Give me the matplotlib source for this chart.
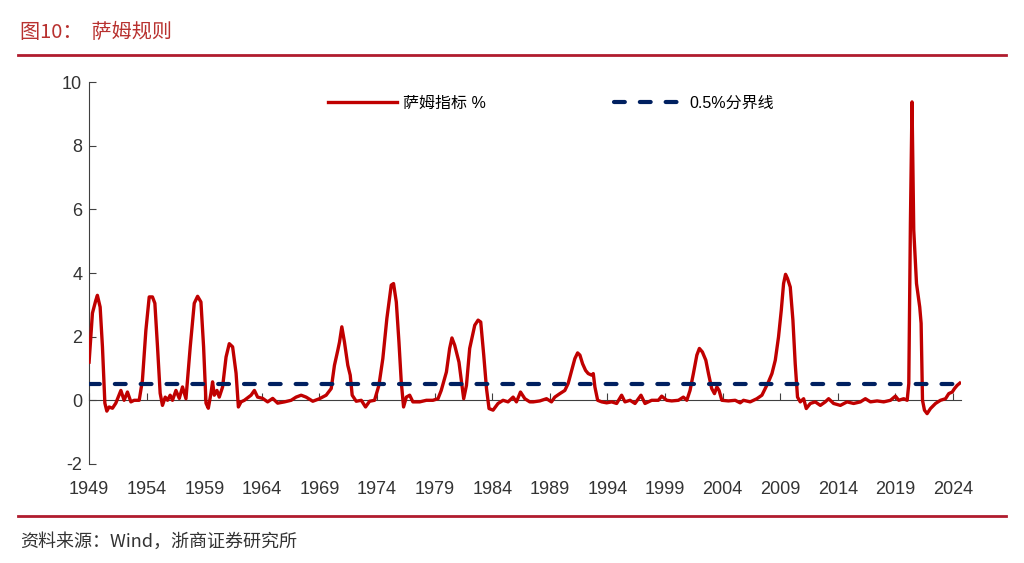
import matplotlib
matplotlib.use("Agg")
import matplotlib.pyplot as plt
from matplotlib.lines import Line2D

plt.rcParams["font.family"] = ["Liberation Sans", "Noto Sans CJK SC", "DejaVu Sans"]
plt.rcParams["axes.unicode_minus"] = False

# Sahm rule indicator (%): decimal year, value
years = [
    1949.00, 1949.29, 1949.58, 1949.72, 1949.96, 1950.16, 1950.37, 1950.54, 1950.74, 1951.03,
    1951.32, 1951.76, 1952.04, 1952.33, 1952.63, 1952.91, 1953.35, 1953.63, 1953.93, 1954.22,
    1954.50, 1954.71, 1954.94, 1955.17, 1955.37, 1955.61, 1955.81, 1956.04, 1956.24, 1956.54,
    1956.83, 1957.11, 1957.41, 1957.78, 1958.13, 1958.42, 1958.71, 1958.94, 1959.15, 1959.35,
    1959.58, 1959.72, 1959.87, 1960.10, 1960.30, 1960.59, 1960.89, 1961.17, 1961.46, 1961.76,
    1961.96, 1962.19, 1962.48, 1963.06, 1963.35, 1963.63, 1964.07, 1964.50, 1964.94, 1965.37,
    1965.96, 1966.54, 1966.97, 1967.41, 1967.84, 1968.42, 1969.00, 1969.58, 1970.02, 1970.30,
    1970.59, 1970.74, 1970.94, 1971.17, 1971.46, 1971.67, 1971.84, 1972.19, 1972.63, 1973.00,
    1973.35, 1973.78, 1974.16, 1974.50, 1974.85, 1975.23, 1975.43, 1975.67, 1975.90, 1976.10,
    1976.30, 1976.54, 1976.83, 1977.11, 1977.70, 1978.28, 1978.85, 1979.29, 1979.57, 1980.02,
    1980.30, 1980.50, 1980.74, 1981.11, 1981.37, 1981.52, 1981.76, 1982.04, 1982.48, 1982.77,
    1983.00, 1983.26, 1983.50, 1983.72, 1984.07, 1984.50, 1984.94, 1985.37, 1985.81, 1986.10,
    1986.45, 1986.83, 1987.26, 1987.55, 1988.13, 1988.71, 1989.14, 1989.43, 1989.87, 1990.30,
    1990.59, 1990.89, 1991.17, 1991.41, 1991.61, 1991.84, 1992.10, 1992.33, 1992.63, 1992.77,
    1992.91, 1993.15, 1993.50, 1993.93, 1994.37, 1994.80, 1995.23, 1995.52, 1995.96, 1996.39,
    1996.91, 1997.26, 1997.84, 1998.42, 1998.71, 1999.15, 1999.58, 2000.16, 2000.59, 2000.89,
    2001.17, 2001.46, 2001.76, 2001.98, 2002.24, 2002.54, 2002.77, 2003.05, 2003.29, 2003.50,
    2003.69, 2003.93, 2004.50, 2005.09, 2005.52, 2005.81, 2006.39, 2006.97, 2007.41, 2007.70,
    2007.98, 2008.28, 2008.57, 2008.85, 2009.09, 2009.29, 2009.46, 2009.63, 2009.87, 2010.10,
    2010.30, 2010.50, 2010.74, 2011.03, 2011.26, 2011.61, 2012.04, 2012.48, 2012.91, 2013.20,
    2013.63, 2014.22, 2014.80, 2015.37, 2015.96, 2016.39, 2016.83, 2017.41, 2017.98, 2018.57,
    2019.00, 2019.29, 2019.72, 2020.02, 2020.16, 2020.30, 2020.44, 2020.59, 2020.83, 2021.11,
    2021.23, 2021.35, 2021.52, 2021.75, 2022.04, 2022.48, 2022.91, 2023.35, 2023.63, 2023.93,
    2024.13, 2024.36, 2024.59,
]
sahm = [
    1.20, 2.74, 3.14, 3.30, 2.93, 1.68, -0.09, -0.34, -0.21, -0.25,
    -0.09, 0.31, 0.00, 0.26, -0.05, 0.00, 0.00, 0.63, 2.20, 3.25,
    3.25, 3.05, 1.68, 0.22, -0.16, 0.10, 0.00, 0.16, 0.00, 0.31,
    0.06, 0.42, 0.05, 1.68, 3.05, 3.27, 3.09, 1.68, -0.09, -0.25,
    0.22, 0.58, 0.16, 0.31, 0.10, 0.42, 1.36, 1.78, 1.68, 0.85,
    -0.21, -0.05, 0.00, 0.16, 0.31, 0.10, 0.06, -0.05, 0.06, -0.09,
    -0.05, 0.00, 0.10, 0.16, 0.10, -0.03, 0.05, 0.16, 0.37, 1.10,
    1.57, 1.83, 2.31, 1.83, 1.10, 0.79, 0.16, -0.03, 0.00, -0.21,
    -0.03, 0.00, 0.47, 1.31, 2.57, 3.62, 3.67, 3.09, 1.83, 0.58,
    -0.21, 0.10, 0.16, -0.05, -0.05, 0.00, 0.00, 0.05, 0.31, 0.89,
    1.63, 1.96, 1.73, 1.20, 0.47, 0.05, 0.47, 1.63, 2.36, 2.52,
    2.46, 1.42, 0.37, -0.26, -0.31, -0.10, 0.00, -0.05, 0.10, -0.05,
    0.26, 0.05, -0.05, -0.05, -0.02, 0.05, -0.05, 0.10, 0.21, 0.31,
    0.53, 0.94, 1.31, 1.49, 1.42, 1.15, 0.94, 0.84, 0.79, 0.84,
    0.42, 0.00, -0.05, -0.08, -0.05, -0.10, 0.16, -0.05, 0.00, -0.10,
    0.16, -0.10, 0.00, 0.00, 0.13, 0.00, -0.02, 0.00, 0.10, 0.00,
    0.31, 0.84, 1.42, 1.63, 1.52, 1.26, 0.84, 0.37, 0.21, 0.42,
    0.31, 0.00, -0.02, 0.00, -0.08, 0.00, -0.05, 0.05, 0.16, 0.37,
    0.58, 0.84, 1.26, 1.99, 2.83, 3.67, 3.96, 3.83, 3.56, 2.52,
    1.15, 0.10, -0.05, 0.05, -0.26, -0.10, -0.05, -0.16, -0.05, 0.05,
    -0.10, -0.16, -0.05, -0.10, -0.05, 0.05, -0.05, -0.02, -0.05, 0.00,
    0.13, 0.00, 0.05, 0.00, 0.52, 5.56, 9.38, 5.35, 3.67, 2.93,
    2.42, 0.00, -0.31, -0.42, -0.26, -0.10, 0.00, 0.05, 0.21, 0.26,
    0.37, 0.47, 0.54,
]
threshold = 0.5
x_ticks = list(range(1949, 2025, 5))
y_ticks = [-2, 0, 2, 4, 6, 8, 10]

fig = plt.figure(figsize=(10.24, 5.63), dpi=100)
ax = fig.add_axes([0.087, 0.176, 0.851, 0.678])

ax.plot(years, sahm, color="#c00000", lw=2.4, label="萨姆指标 %", zorder=3)
ax.axhline(threshold, color="#002060", lw=3, ls=(0, (2.6, 3.6)),
           dash_capstyle="round", label="0.5%分界线", zorder=4)

ax.set_xlim(1949, 2024.65)
ax.set_ylim(-2, 10)
ax.set_xticks(x_ticks)
ax.set_yticks(y_ticks)

for s in ["top", "right"]:
    ax.spines[s].set_visible(False)
ax.spines["bottom"].set_position(("data", 0))
ax.spines["bottom"].set_color("#404040")
ax.spines["left"].set_color("#404040")
ax.tick_params(axis="x", direction="in", length=5, color="#404040",
               labelsize=13, labelcolor="#333333", pad=58)
ax.tick_params(axis="y", direction="in", length=5, color="#404040",
               labelsize=13, labelcolor="#333333", pad=5)

ax.legend(loc="center", bbox_to_anchor=(0.53, 0.945), ncol=2, frameon=False,
          fontsize=11.5, handlelength=4.3, columnspacing=8, handletextpad=0.4)

# header / footer
fig.text(0.0195, 0.943, "图10：  萨姆规则", color="#b8312f", fontsize=14.5,
         family=["Noto Sans CJK SC"], va="center")
fig.add_artist(Line2D([0.018, 0.982], [0.902, 0.902], color="#b01c2e", lw=2))
fig.add_artist(Line2D([0.018, 0.982], [0.083, 0.083], color="#b01c2e", lw=2))
fig.text(0.0195, 0.037, "资料来源：Wind，浙商证券研究所", color="#333333",
         fontsize=13, family=["Noto Sans CJK SC"], va="center")

fig.savefig("out.png", dpi=100)
